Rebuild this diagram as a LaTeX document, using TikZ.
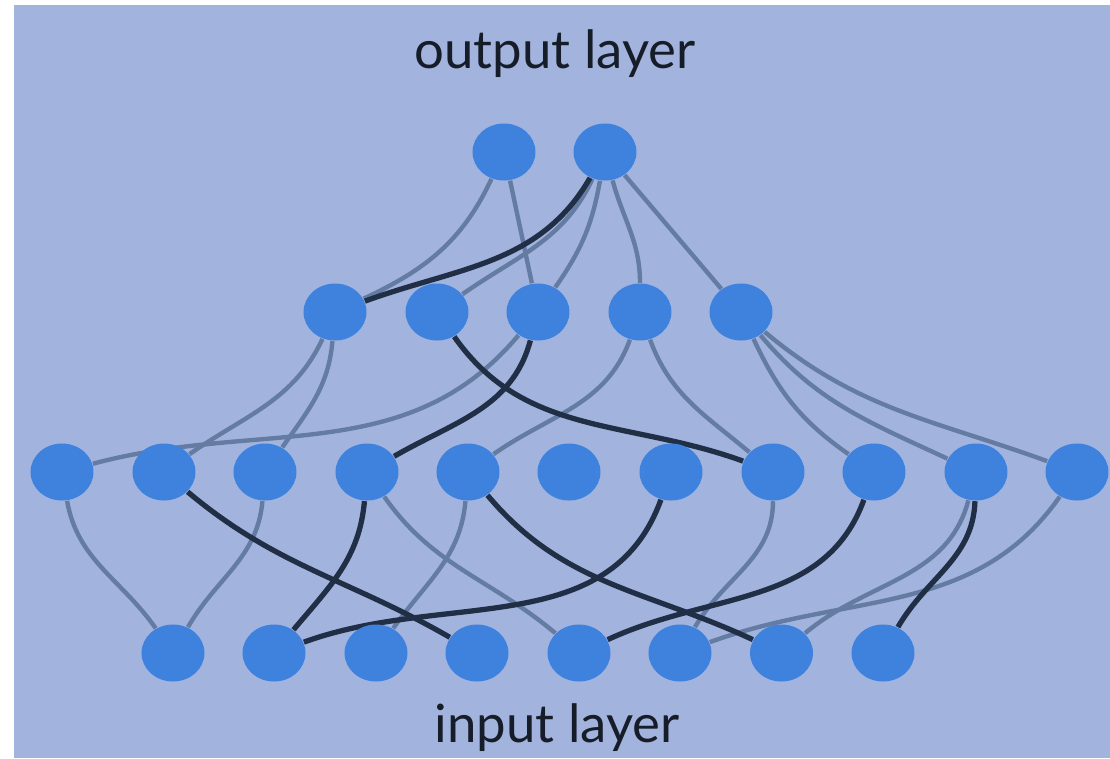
\documentclass[tikz,border=0pt]{standalone}
\usepackage{fontspec}
\setmainfont{Lato}
\usepackage{tikz}
\usetikzlibrary{shapes.geometric, positioning}
\definecolor{paneblue}{RGB}{162, 180, 222}
\definecolor{cellblue}{RGB}{62, 130, 222}
\definecolor{wirelight}{RGB}{100, 124, 162}
\definecolor{wiredark}{RGB}{32, 46, 70}
\definecolor{labeldark}{RGB}{22, 28, 40}
\pgfdeclarelayer{pane}
\pgfdeclarelayer{wires}
\pgfsetlayers{pane,wires,main}

\begin{document}
\begin{tikzpicture}[
    neuron/.style={ellipse, fill=cellblue, minimum width=0.63cm, minimum height=0.57cm, inner sep=0pt},
    lbl/.style={font=\fontsize{15}{17}\selectfont, text=labeldark, anchor=base},
    wlight/.style={wirelight, line width=1.25pt},
    wdark/.style={wiredark, line width=1.5pt}
]
\useasboundingbox (0,0) rectangle (11.1,-7.58);

% ── Backdrop ──
\begin{pgfonlayer}{pane}
\fill[paneblue] (0.14,-0.05) rectangle (11.1,-7.58);
\end{pgfonlayer}

% ── Labels ──
\node[lbl] (toplbl) at (5.55,-0.68) {output layer};
\node[lbl] (botlbl) at (5.57,-7.42) {input layer};

% ── Output layer ──
\node[neuron] (o1) at (5.04,-1.52) {};
\node[neuron] (o2) at (6.05,-1.52) {};

% ── Upper hidden layer ──
\node[neuron] (hu1) at (3.35,-3.12) {};
\node[neuron] (hu2) at (4.37,-3.12) {};
\node[neuron] (hu3) at (5.38,-3.12) {};
\node[neuron] (hu4) at (6.40,-3.12) {};
\node[neuron] (hu5) at (7.41,-3.12) {};

% ── Lower hidden layer ──
\node[neuron] (hl1) at (0.62,-4.72) {};
\node[neuron] (hl2) at (1.64,-4.72) {};
\node[neuron] (hl3) at (2.65,-4.72) {};
\node[neuron] (hl4) at (3.67,-4.72) {};
\node[neuron] (hl5) at (4.68,-4.72) {};
\node[neuron] (hl6) at (5.69,-4.72) {};
\node[neuron] (hl7) at (6.71,-4.72) {};
\node[neuron] (hl8) at (7.73,-4.72) {};
\node[neuron] (hl9) at (8.74,-4.72) {};
\node[neuron] (hl10) at (9.76,-4.72) {};
\node[neuron] (hl11) at (10.77,-4.72) {};

% ── Input layer ──
\node[neuron] (in1) at (1.73,-6.53) {};
\node[neuron] (in2) at (2.74,-6.53) {};
\node[neuron] (in3) at (3.76,-6.53) {};
\node[neuron] (in4) at (4.77,-6.53) {};
\node[neuron] (in5) at (5.79,-6.53) {};
\node[neuron] (in6) at (6.80,-6.53) {};
\node[neuron] (in7) at (7.815,-6.53) {};
\node[neuron] (in8) at (8.83,-6.53) {};

\begin{pgfonlayer}{wires}
% output -> upper hidden
\draw[wlight] (o1) to[out=-115,in=25] (hu1);
\draw[wlight] (o1) -- (hu3);
\draw[wlight] (o2) to[out=-115,in=35] (hu2);
\draw[wlight] (o2) to[out=-100,in=55] (hu3);
\draw[wlight] (o2) to[out=-75,in=90] (hu4);
\draw[wlight] (o2) -- (hu5);
\draw[wdark] (o2) to[out=-120,in=20] (hu1);

% upper hidden -> lower hidden
\draw[wlight] (hu1) to[out=-115,in=35] (hl2);
\draw[wlight] (hu1) to[out=-95,in=55] (hl3);
\draw[wlight] (hu3) to[out=-130,in=15] (hl1);
\draw[wlight] (hu4) to[out=-110,in=35] (hl5);
\draw[wlight] (hu4) to[out=-70,in=140] (hl8);
\draw[wlight] (hu5) to[out=-65,in=145] (hl9);
\draw[wlight] (hu5) to[out=-50,in=155] (hl10);
\draw[wlight] (hu5) to[out=-40,in=160] (hl11);
\draw[wdark] (hu2) to[out=-55,in=160] (hl8);
\draw[wdark] (hu3) to[out=-105,in=30] (hl4);

% lower hidden -> input
\draw[wlight] (hl1) to[out=-80,in=125] (in1);
\draw[wlight] (hl3) to[out=-95,in=60] (in1);
\draw[wlight] (hl4) to[out=-55,in=140] (in5);
\draw[wlight] (hl5) to[out=-95,in=55] (in3);
\draw[wlight] (hl8) to[out=-90,in=60] (in6);
\draw[wlight] (hl10) to[out=-105,in=40] (in7);
\draw[wlight] (hl11) to[out=-125,in=20] (in6);
\draw[wdark] (hl2) to[out=-40,in=150] (in4);
\draw[wdark] (hl4) to[out=-95,in=50] (in2);
\draw[wdark] (hl5) to[out=-50,in=155] (in7);
\draw[wdark] (hl7) to[out=-110,in=20] (in2);
\draw[wdark] (hl9) to[out=-110,in=25] (in5);
\draw[wdark] (hl10) to[out=-92,in=60] (in8);
\end{pgfonlayer}

\end{tikzpicture}
\end{document}
